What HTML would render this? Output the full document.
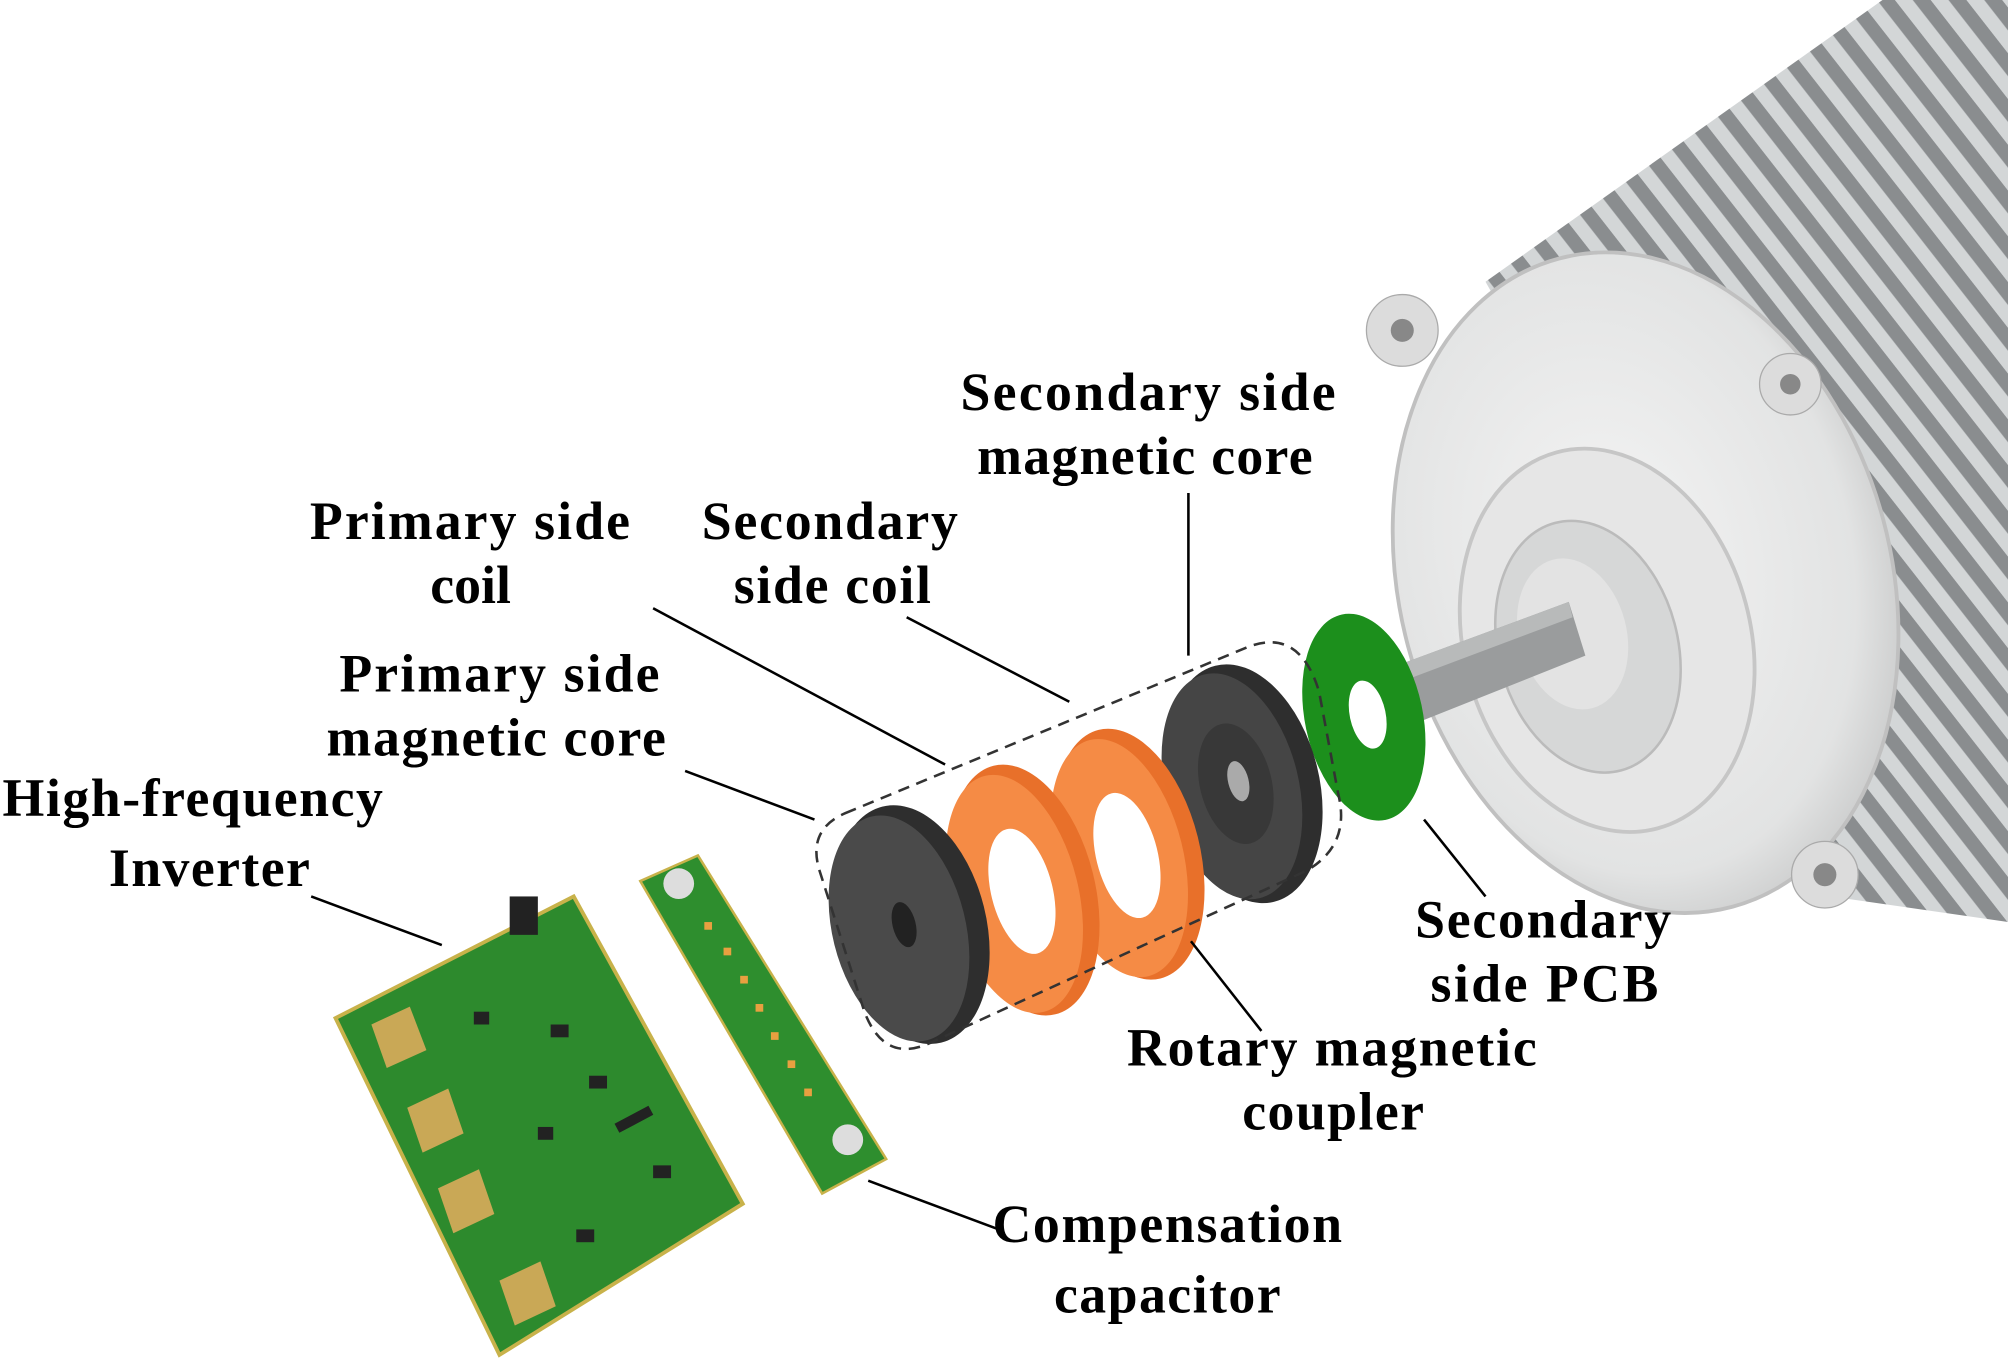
<!DOCTYPE html>
<html><head><meta charset="utf-8"><style>
html,body{margin:0;padding:0;background:#fff;}
svg{display:block}
text{font-family:"Liberation Serif",serif;font-weight:bold;font-size:42px;fill:#000;}
</style></head><body>
<svg width="2008" height="1369" viewBox="0 0 1568 1069" xmlns="http://www.w3.org/2000/svg">
<defs>
<pattern id="fins" width="22" height="22" patternUnits="userSpaceOnUse" patternTransform="rotate(-38)">
<rect width="22" height="22" fill="#8a8d8f"/>
<rect width="11" height="22" fill="#d3d6d7"/>
</pattern>
<radialGradient id="cap" cx="0.45" cy="0.45" r="0.6">
<stop offset="0" stop-color="#f4f4f4"/><stop offset="0.8" stop-color="#e2e3e3"/><stop offset="1" stop-color="#c8c9c9"/>
</radialGradient>
</defs>
<polygon points="1160,220 1470,0 1568,0 1568,720 1430,700" fill="url(#fins)"/>
<ellipse cx="1285" cy="455" rx="192" ry="262" transform="rotate(-15 1285 455)" fill="url(#cap)" stroke="#c0c0c0" stroke-width="3"/>
<g>
<circle cx="1095" cy="258" r="28" fill="#dcdcdc" stroke="#aaa"/>
<circle cx="1095" cy="258" r="9" fill="#888"/>
<circle cx="1398" cy="300" r="24" fill="#dcdcdc" stroke="#aaa"/>
<circle cx="1398" cy="300" r="8" fill="#888"/>
<circle cx="1425" cy="683" r="26" fill="#dcdcdc" stroke="#aaa"/>
<circle cx="1425" cy="683" r="9" fill="#888"/>
</g>
<ellipse cx="1255" cy="500" rx="112" ry="152" transform="rotate(-15 1255 500)" fill="#e6e6e6" stroke="#c6c6c6" stroke-width="3"/>
<ellipse cx="1240" cy="505" rx="70" ry="100" transform="rotate(-15 1240 505)" fill="#d6d7d7" stroke="#bbb" stroke-width="2"/>
<ellipse cx="1228" cy="495" rx="42" ry="60" transform="rotate(-15 1228 495)" fill="#e3e3e3"/>
<polygon points="1090,520 1225,470 1238,512 1105,565" fill="#9a9c9d"/>
<polygon points="1090,520 1225,470 1228,482 1095,532" fill="#b8baba"/>
<ellipse cx="1065" cy="560" rx="46" ry="82" transform="rotate(-12 1065 560)" fill="#1c8f1c"/>
<ellipse cx="1068" cy="558" rx="14" ry="27" transform="rotate(-12 1068 558)" fill="#fff"/>
<ellipse cx="972" cy="612" rx="58" ry="95" transform="rotate(-14 972 612)" fill="#2e2e2e"/>
<ellipse cx="962" cy="614" rx="52" ry="90" transform="rotate(-14 962 614)" fill="#454545"/>
<ellipse cx="965" cy="612" rx="28" ry="48" transform="rotate(-14 965 612)" fill="#383838"/>
<ellipse cx="967" cy="610" rx="8" ry="16" transform="rotate(-14 967 610)" fill="#aaa"/>
<ellipse cx="882" cy="667" rx="55" ry="100" transform="rotate(-14 882 667)" fill="#e8702a"/>
<ellipse cx="874" cy="670" rx="50" ry="95" transform="rotate(-14 874 670)" fill="#f58b45"/>
<ellipse cx="880" cy="668" rx="24" ry="50" transform="rotate(-14 880 668)" fill="#fff"/>
<ellipse cx="800" cy="695" rx="55" ry="100" transform="rotate(-14 800 695)" fill="#e8702a"/>
<ellipse cx="792" cy="698" rx="50" ry="95" transform="rotate(-14 792 698)" fill="#f58b45"/>
<ellipse cx="798" cy="696" rx="24" ry="50" transform="rotate(-14 798 696)" fill="#fff"/>
<ellipse cx="712" cy="722" rx="58" ry="95" transform="rotate(-14 712 722)" fill="#2e2e2e"/>
<ellipse cx="702" cy="725" rx="52" ry="90" transform="rotate(-14 702 725)" fill="#4a4a4a"/>
<ellipse cx="706" cy="722" rx="9" ry="18" transform="rotate(-14 706 722)" fill="#222"/>
<path d="M660,635 L975,505 Q1015,490 1030,540 L1045,620 Q1055,660 1020,680 L725,815 Q690,830 675,790 L640,680 Q630,648 660,635 Z" fill="none" stroke="#333" stroke-width="2" stroke-dasharray="9,6"/>
<polygon points="262,795 448,700 580,940 390,1058" fill="#2d8a2d" stroke="#c8b24a" stroke-width="3"/>
<g fill="#c9a856">
<polygon points="290,800 320,786 333,820 302,834"/>
<polygon points="318,865 350,850 362,885 330,900"/>
<polygon points="342,928 374,913 386,948 354,963"/>
<polygon points="390,1000 422,985 434,1020 402,1035"/>
</g>
<g fill="#222">
<rect x="398" y="700" width="22" height="30"/>
<rect x="430" y="800" width="14" height="10"/><rect x="460" y="840" width="14" height="10"/>
<rect x="480" y="870" width="30" height="8" transform="rotate(-28 495 874)"/>
<rect x="510" y="910" width="14" height="10"/><rect x="450" y="960" width="14" height="10"/>
<rect x="370" y="790" width="12" height="10"/><rect x="420" y="880" width="12" height="10"/>
</g>
<polygon points="500,688 545,668 692,905 642,932" fill="#2e8e2e" stroke="#c8b24a" stroke-width="2"/>
<g fill="#e8a040">
<rect x="550" y="720" width="6" height="6"/><rect x="565" y="740" width="6" height="6"/><rect x="578" y="762" width="6" height="6"/>
<rect x="590" y="784" width="6" height="6"/><rect x="602" y="806" width="6" height="6"/><rect x="615" y="828" width="6" height="6"/>
<rect x="628" y="850" width="6" height="6"/>
</g>
<circle cx="530" cy="690" r="12" fill="#ddd"/>
<circle cx="662" cy="890" r="12" fill="#ddd"/>
<g stroke="#000" stroke-width="2" fill="none">
<line x1="928" y1="385" x2="928" y2="512"/>
<line x1="510" y1="475" x2="738" y2="597"/>
<line x1="708" y1="482" x2="835" y2="548"/>
<line x1="535" y1="602" x2="636" y2="640"/>
<line x1="243" y1="700" x2="345" y2="738"/>
<line x1="1112" y1="640" x2="1160" y2="700"/>
<line x1="930" y1="735" x2="985" y2="805"/>
<line x1="678" y1="922" x2="780" y2="960"/>
</g>
<text x="750" y="320" textLength="293" lengthAdjust="spacing">Secondary side</text>
<text x="763" y="370" textLength="262" lengthAdjust="spacing">magnetic core</text>
<text x="242" y="421" textLength="250" lengthAdjust="spacing">Primary side</text>
<text x="336" y="471">coil</text>
<text x="548" y="421" textLength="200" lengthAdjust="spacing">Secondary</text>
<text x="573" y="471" textLength="154" lengthAdjust="spacing">side coil</text>
<text x="265" y="540" textLength="250" lengthAdjust="spacing">Primary side</text>
<text x="255" y="590" textLength="265" lengthAdjust="spacing">magnetic core</text>
<text x="2" y="637" textLength="297" lengthAdjust="spacing">High-frequency</text>
<text x="85" y="692" textLength="157" lengthAdjust="spacing">Inverter</text>
<text x="1105" y="732" textLength="200" lengthAdjust="spacing">Secondary</text>
<text x="1117" y="782" textLength="178" lengthAdjust="spacing">side PCB</text>
<text x="880" y="832" textLength="320" lengthAdjust="spacing">Rotary magnetic</text>
<text x="970" y="882" textLength="142" lengthAdjust="spacing">coupler</text>
<text x="775" y="970" textLength="273" lengthAdjust="spacing">Compensation</text>
<text x="823" y="1025" textLength="177" lengthAdjust="spacing">capacitor</text>
</svg>
</body></html>
